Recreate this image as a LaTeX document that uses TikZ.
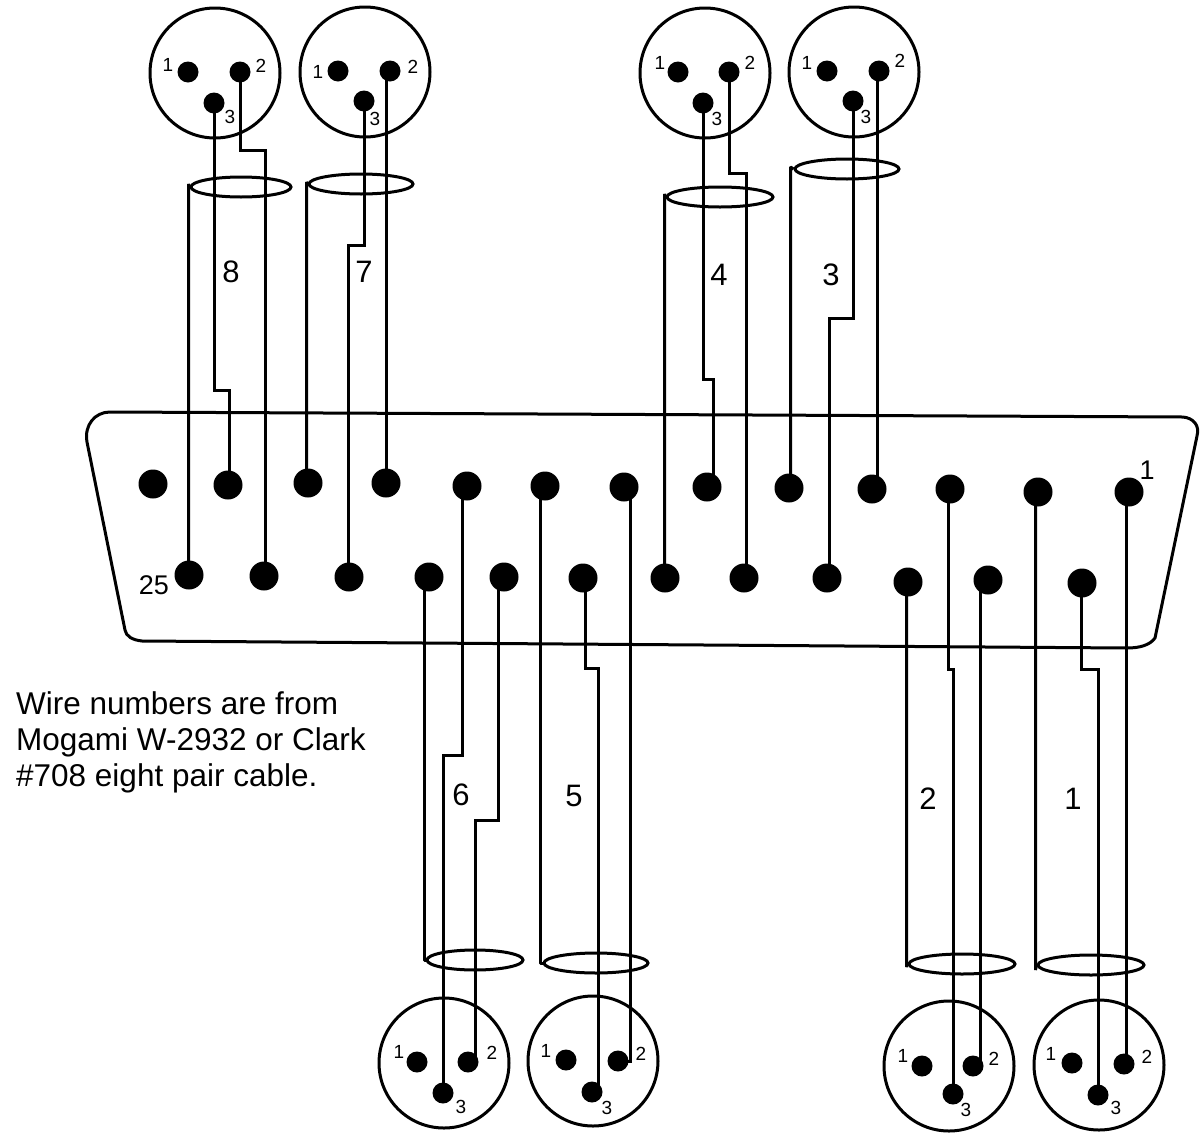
\documentclass[tikz,border=0pt]{standalone}
\usepackage{fontspec}
\setmainfont{Liberation Sans}
\usetikzlibrary{shapes.geometric}
\newcommand*{\myxlr}[8]{
  \node[xlrshell] (#1_s) at (#2) {};
  \node[xlrpin] (#1_1) at (#3) {};
  \node[xlrpin] (#1_2) at (#4) {};
  \node[xlrpin] (#1_3) at (#5) {};
  \node[pinlabel] (#1_l1) at (#6) {1};
  \node[pinlabel] (#1_l2) at (#7) {2};
  \node[pinlabel] (#1_l3) at (#8) {3};
}
\begin{document}
\begin{tikzpicture}[x=1pt,y=-1pt,
      xlrshell/.style={draw,circle,line width=3pt,minimum size=130pt,inner sep=0pt},
      xlrpin/.style={fill=black,circle,minimum size=21pt,inner sep=0pt},
      dbpin/.style={fill=black,circle,minimum size=29pt,inner sep=0pt},
      pinlabel/.style={inner sep=0pt,font=\fontsize{19}{21}\selectfont},
      dblabel/.style={inner sep=0pt,font=\fontsize{27}{29}\selectfont},
      wirenum/.style={inner sep=0pt,font=\fontsize{31}{33}\selectfont},
      jacket/.style={draw,ellipse,line width=3pt,minimum height=20pt,inner sep=0pt},
      wire/.style={line width=3pt},
      shield/.style={wire,line join=bevel}]
      \useasboundingbox (0,0) rectangle (1203,1133);
      % shell of the 25 pin connector
      \draw[line width=3pt] (87,442) .. controls (84,425) and (95,412) .. (110,412)
        -- (1183,417) .. controls (1193,418) and (1200,425) .. (1197,436)
        -- (1155,638) .. controls (1150,645) and (1140,648) .. (1127,648)
        -- (142,641) .. controls (132,640) and (126,636) .. (125,630) -- cycle;
      \foreach \n/\x/\y in {1/1129/492,2/1038/492,3/950/489,4/872/489,5/789/488,
        6/707/487,7/624/487,8/545/486,9/467/486,10/386/483,11/308/483,12/228/485,13/153/484,
        14/1082/583,15/988/580,16/908/582,17/827/578,18/744/578,19/665/578,20/583/578,
        21/504/577,22/429/577,23/349/577,24/264/576,25/189/575}
        \node[dbpin] (d_\n) at (\x,\y) {};
      \node[dblabel] (l_25) at (154,585) {25};
      \node[dblabel] (l_1) at (1147,470) {1};
      % xlr connectors
      \myxlr{x8}{215,73}{188,72}{240,72}{214,103}{168,65}{261,66}{230,117}
      \myxlr{x7}{365,72}{338,71}{390,71}{364,101}{318,72}{413,67}{375,119}
      \myxlr{x4}{705,73}{678,72}{729,72}{703,103}{660,63}{750,63}{717,119}
      \myxlr{x3}{854,72}{827,71}{879,71}{853,101}{807,63}{900,61}{866,117}
      \myxlr{x6}{444,1063}{417,1062}{468,1062}{443,1093}{399,1052}{492,1053}{461,1107}
      \myxlr{x5}{593,1061}{566,1060}{618,1061}{592,1092}{546,1051}{641,1054}{607,1108}
      \myxlr{x2}{949,1066}{922,1066}{973,1066}{953,1094}{903,1056}{994,1059}{966,1110}
      \myxlr{x1}{1099,1065}{1072,1063}{1124,1064}{1098,1095}{1051,1054}{1147,1057}{1116,1108}
      % cable ends
      \node[jacket,minimum width=100pt] (c8) at (241,187) {};
      \node[jacket,minimum width=104pt] (c7) at (361,184) {};
      \node[jacket,minimum width=106pt] (c4) at (720,197) {};
      \node[jacket,minimum width=104pt] (c3) at (847,169) {};
      \node[jacket,minimum width=96pt] (c6) at (475,960) {};
      \node[jacket,minimum width=104pt] (c5) at (596,963) {};
      \node[jacket,minimum width=106pt] (c2) at (962,964) {};
      \node[jacket,minimum width=106pt] (c1) at (1091,965) {};
      % shields
      \draw[shield] (c8.west) -- ++(-1,-3) |- (d_25.center);
      \draw[shield] (c7.west) -- ++(-1,-2) |- (d_11.center);
      \draw[shield] (c4.west) -- ++(-1,-3) |- (d_19.center);
      \draw[shield] (c3.west) -- ++(-3,-2) |- (d_5.center);
      \draw[shield] (c6.west) -- ++(-1,0) |- (d_22.center);
      \draw[shield] (c5.west) -- ++(-2,0) |- (d_8.center);
      \draw[shield] (c2.west) -- ++(-1,3) |- (d_16.center);
      \draw[shield] (c1.west) -- ++(-1,5) |- (d_2.center);
      % pairs
      \draw[wire] (x8_3.center) |- (229,390) |- (d_12.center);
      \draw[wire] (x8_2.center) |- (265,150) |- (d_24.center);
      \draw[wire] (x7_3.center) |- (348,245) |- (d_23.center);
      \draw[wire] (d_10.center) |- (x7_2.center);
      \draw[wire] (x4_3.center) |- (713,379) |- (d_6.center);
      \draw[wire] (x4_2.center) |- (746,173) |- (d_18.center);
      \draw[wire] (x3_3.center) |- (829,318) |- (d_17.center);
      \draw[wire] ([xshift=5pt]d_4.center) |- (x3_2.center);
      \draw[wire] (x6_3.center) |- (462,755) |- (d_9.center);
      \draw[wire] ([xshift=7pt]x6_2.center) |- (498,820) |- (d_21.center);
      \draw[wire] ([xshift=6pt]x5_3.center) |- (585,668) |- (d_20.center);
      \draw[wire] ([xshift=6pt]d_7.center) |- (x5_2.center);
      \draw[wire] (x2_3.center) |- (948,669) |- (d_3.center);
      \draw[wire] ([xshift=-8pt]d_15.center) |- (x2_2.center);
      \draw[wire] (x1_3.center) |- (1081,669) |- (d_14.center);
      \draw[wire] ([xshift=-3pt]d_1.center) |- (x1_2.center);
      % wire numbers
      \node[wirenum] (n8) at (231,272) {8};
      \node[wirenum] (n7) at (364,272) {7};
      \node[wirenum] (n4) at (719,275) {4};
      \node[wirenum] (n3) at (831,275) {3};
      \node[wirenum] (n6) at (461,795) {6};
      \node[wirenum] (n5) at (574,796) {5};
      \node[wirenum] (n2) at (928,799) {2};
      \node[wirenum] (n1) at (1073,799) {1};
      \node[anchor=north west,inner sep=0pt,align=left,
        font=\fontsize{31.5}{36}\selectfont] (note) at (16,691)
        {Wire numbers are from\\Mogami W-2932 or Clark\\\#708 eight pair cable.};
    \end{tikzpicture}
\end{document}
